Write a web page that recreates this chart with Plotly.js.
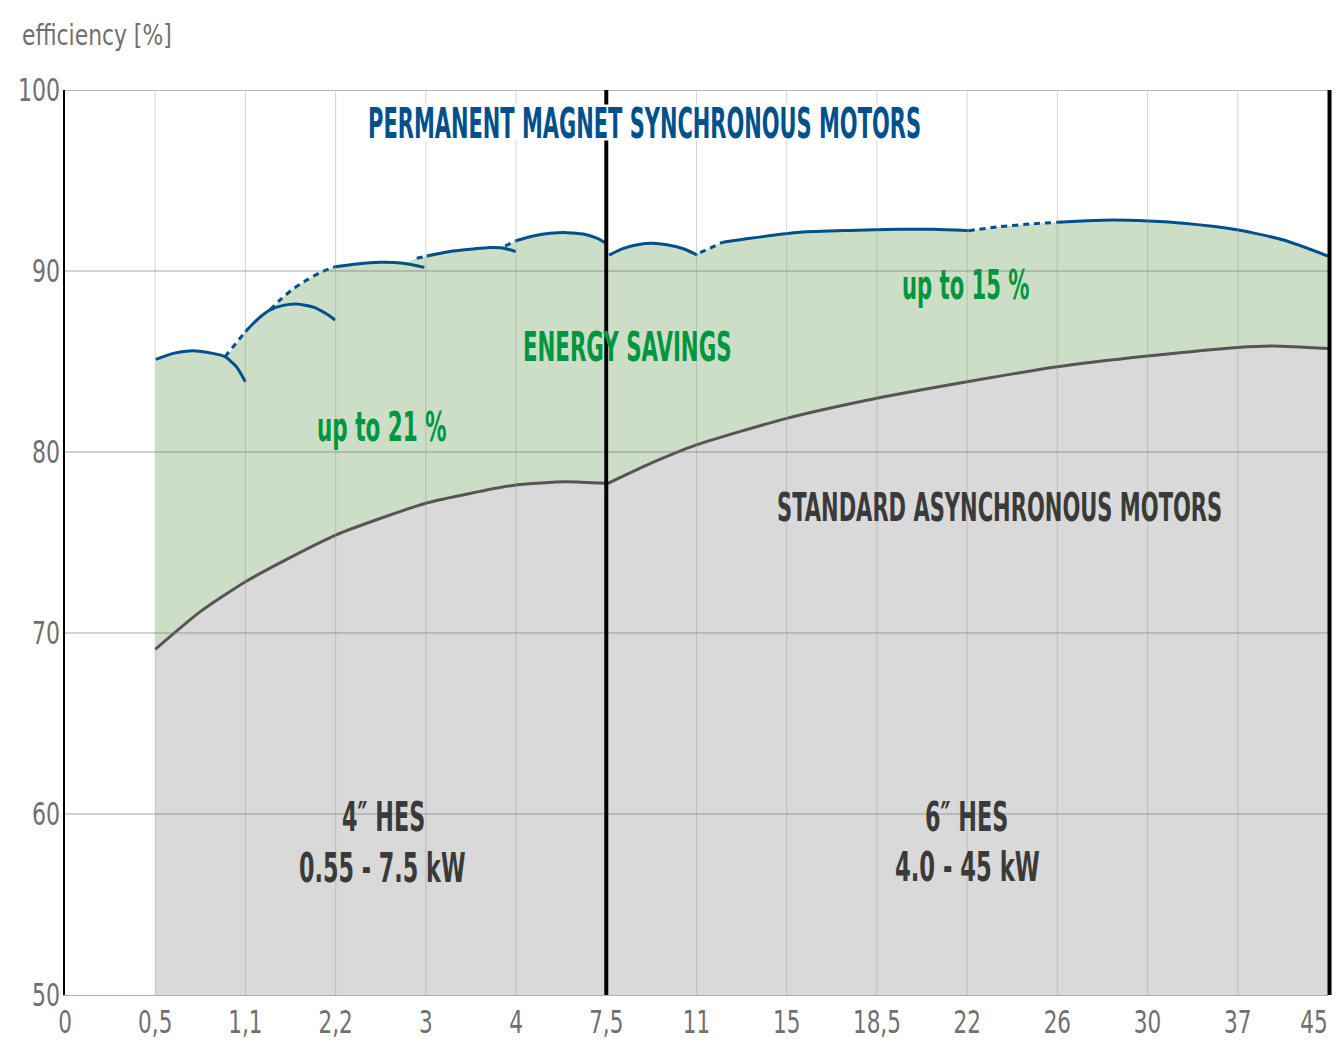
<!DOCTYPE html>
<html><head><meta charset="utf-8">
<script src="https://cdn.plot.ly/plotly-3.0.1.min.js"></script>
<style>html,body{margin:0;padding:0;background:#fff}#chart{width:1343px;height:1046px}</style>
</head><body><div id="chart"></div>
<script>
// ---------- DATA (x = position index of the power tick labels) ----------
const xTickLabels = ['0','0,5','1,1','2,2','3','4','7,5','11','15','18,5','22','26','30','37','45'];
const yTickValues = [50,60,70,80,90,100];

// standard asynchronous motors, efficiency [%]
const asyncLeftX  = [1.0, 1.5, 2.0, 2.5, 3.0, 3.5, 4.0, 4.5, 5.0, 5.55, 6.0];
const asyncLeftY  = [69.1, 71.18, 72.83, 74.18, 75.41, 76.34, 77.17, 77.72, 78.18, 78.36, 78.27];
const asyncRightX = [6.0, 6.45, 7.0, 8.0, 9.0, 10.0, 11.0, 12.0, 13.0, 13.4, 14.0];
const asyncRightY = [78.23, 79.28, 80.39, 81.86, 82.97, 83.88, 84.71, 85.30, 85.78, 85.86, 85.72];

// permanent magnet synchronous motors – solid curve pieces
const pmArc1X = [1.006, 1.2, 1.42, 1.64, 1.774, 1.9, 2.0];
const pmArc1Y = [85.12, 85.45, 85.60, 85.45, 85.27, 84.71, 83.88];
const pmArc2X = [2.0, 2.125, 2.273, 2.42, 2.569, 2.753, 2.901, 2.993];
const pmArc2Y = [86.65, 87.29, 87.85, 88.10, 88.18, 88.0, 87.62, 87.29];
const pmArc3X = [2.993, 3.234, 3.492, 3.75, 3.983];
const pmArc3Y = [90.24, 90.39, 90.48, 90.43, 90.20];
const pmArc4X = [4.01, 4.268, 4.527, 4.712, 4.823, 4.911, 4.997];
const pmArc4Y = [90.83, 91.08, 91.22, 91.30, 91.29, 91.20, 91.07];
const pmArc5X = [4.997, 5.192, 5.377, 5.562, 5.746, 5.895, 5.987];
const pmArc5Y = [91.67, 91.93, 92.08, 92.12, 92.04, 91.81, 91.56];
const pmArc6X = [6.031, 6.19, 6.375, 6.505, 6.671, 6.855, 7.01];
const pmArc6Y = [90.88, 91.25, 91.48, 91.53, 91.45, 91.23, 90.88];
const pmMain1X = [7.291, 7.594, 8.149, 8.703, 9.257, 9.627, 10.015];
const pmMain1Y = [91.59, 91.81, 92.14, 92.24, 92.30, 92.30, 92.23];
const pmMain2X = [10.994, 11.327, 11.621, 12.01, 12.398, 13.008, 13.507, 14.0];
const pmMain2Y = [92.69, 92.78, 92.82, 92.76, 92.64, 92.27, 91.71, 90.83];

// permanent magnet synchronous motors – dotted connecting pieces
const pmDot1X = [1.774, 2.0];                 const pmDot1Y = [85.27, 86.65];
const pmDot2X = [2.273, 2.384, 2.513, 2.68, 2.827, 2.993];
const pmDot2Y = [87.85, 88.40, 88.95, 89.50, 89.91, 90.24];
const pmDot3X = [3.899, 4.01];                const pmDot3Y = [90.70, 90.83];
const pmDot4X = [4.878, 4.997];               const pmDot4Y = [91.38, 91.67];
const pmDot5X = [7.04, 7.291];                const pmDot5Y = [91.01, 91.59];
const pmDot6X = [10.015, 10.366, 10.735, 10.994];
const pmDot6Y = [92.23, 92.45, 92.61, 92.69];

// upper envelope of the PMSM curves (top of the energy-savings area)
const pmEnvLeftX = [1.006, 1.2, 1.42, 1.64, 1.774, 2.0, 2.125, 2.273, 2.384, 2.513, 2.68, 2.827, 2.993,
                    3.234, 3.492, 3.75, 3.899, 4.01, 4.268, 4.527, 4.712, 4.878, 4.997,
                    5.192, 5.377, 5.562, 5.746, 5.895, 5.987];
const pmEnvLeftY = [85.12, 85.45, 85.60, 85.45, 85.27, 86.65, 87.29, 87.85, 88.40, 88.95, 89.50, 89.91, 90.24,
                    90.39, 90.48, 90.43, 90.70, 90.83, 91.08, 91.22, 91.30, 91.38, 91.67,
                    91.93, 92.08, 92.12, 92.04, 91.81, 91.56];
const pmEnvRightX = [6.031, 6.19, 6.375, 6.505, 6.671, 6.855, 7.01, 7.04, 7.291, 7.594, 8.149, 8.703, 9.257,
                     9.627, 10.015, 10.366, 10.735, 10.994, 11.327, 11.621, 12.01, 12.398, 13.008, 13.507, 14.0];
const pmEnvRightY = [90.88, 91.25, 91.48, 91.53, 91.45, 91.23, 90.88, 91.01, 91.59, 91.81, 92.14, 92.24, 92.30,
                     92.30, 92.23, 92.45, 92.61, 92.69, 92.78, 92.82, 92.76, 92.64, 92.27, 91.71, 90.83];

// ---------- STYLE ----------
const BLUE = '#00508c', GREEN_FILL = '#ccdec6', GRAY_FILL = '#d9d9d9', GRAY_LINE = '#555555';
const GREEN_TXT = '#009640', DARK_TXT = '#3a3a3a', AXIS_TXT = '#707070';
const NARROW = '"DejaVu Sans Condensed", "Liberation Sans Narrow", sans-serif';

const traces = [];
function fillTrace(x, y, color) {
  traces.push({x, y, type:'scatter', mode:'lines', fill:'tozeroy', fillcolor:color,
    line:{width:0, color:color, shape:'spline', smoothing:0.6}, hoverinfo:'skip'});
}
function lineTrace(x, y, color, dash) {
  traces.push({x, y, type:'scatter', mode:'lines',
    line:{width:3, color:color, shape:'spline', smoothing:0.6, dash:dash || 'solid'}, hoverinfo:'skip'});
}
fillTrace(pmEnvLeftX, pmEnvLeftY, GREEN_FILL);
fillTrace(pmEnvRightX, pmEnvRightY, GREEN_FILL);
fillTrace(asyncLeftX, asyncLeftY, GRAY_FILL);
fillTrace(asyncRightX, asyncRightY, GRAY_FILL);
lineTrace(asyncLeftX, asyncLeftY, GRAY_LINE);
lineTrace(asyncRightX, asyncRightY, GRAY_LINE);
[[pmArc1X,pmArc1Y],[pmArc2X,pmArc2Y],[pmArc3X,pmArc3Y],[pmArc4X,pmArc4Y],[pmArc5X,pmArc5Y],
 [pmArc6X,pmArc6Y],[pmMain1X,pmMain1Y],[pmMain2X,pmMain2Y]].forEach(p => lineTrace(p[0], p[1], BLUE));
[[pmDot1X,pmDot1Y],[pmDot2X,pmDot2Y],[pmDot3X,pmDot3Y],[pmDot4X,pmDot4Y],[pmDot5X,pmDot5Y],
 [pmDot6X,pmDot6Y]].forEach(p => lineTrace(p[0], p[1], BLUE, '6px,5px'));

const xIdx = xTickLabels.map((_, i) => i);
const shapes = [];
xIdx.slice(1, -1).forEach(i => shapes.push({type:'line', xref:'x', yref:'y', x0:i, x1:i, y0:50, y1:100,
  layer:'above', line:{color:'rgba(150,150,150,0.4)', width:1}}));
yTickValues.slice(1, -1).forEach(v => shapes.push({type:'line', xref:'x', yref:'y', x0:0, x1:14, y0:v, y1:v,
  layer:'above', line:{color:'rgba(120,120,120,0.45)', width:1.5}}));
shapes.push({type:'line', xref:'x', yref:'y', x0:0, x1:14, y0:100, y1:100, layer:'above',
  line:{color:'#b8b8b8', width:2}});
shapes.push({type:'line', xref:'x', yref:'y', x0:6, x1:6, y0:50, y1:100, layer:'above',
  line:{color:'#000', width:4}});
shapes.push({type:'line', xref:'paper', yref:'paper', x0:1.0012, x1:1.0012, y0:0, y1:1, layer:'above',
  line:{color:'#000', width:4}});

function ann(text, x, y, size, color, extra) {
  return Object.assign({text, x, y, xref:'x', yref:'y', showarrow:false, xanchor:'center', yanchor:'middle',
    font:{family:NARROW, size, color, weight:700}}, extra || {});
}
const annotations = [
  {text:'efficiency [%]', xref:'paper', yref:'paper', x:-0.0356, y:1.0608, xanchor:'left', yanchor:'middle',
   showarrow:false, font:{family:NARROW, size:24.3, color:AXIS_TXT}},
  ann('PERMANENT MAGNET SYNCHRONOUS MOTORS', 6.425, 98.2, 23.3, BLUE, {bgcolor:'#ffffff', borderpad:4}),
  ann('ENERGY SAVINGS', 6.236, 85.82, 23.7, GREEN_TXT),
  ann('up to 21 %', 3.514, 81.4, 23.9, GREEN_TXT),
  ann('up to 15 %', 9.989, 89.2, 23.5, GREEN_TXT),
  ann('STANDARD ASYNCHRONOUS MOTORS', 10.36, 76.93, 23.4, DARK_TXT),
  ann('4″ HES', 3.526, 59.85, 24.8, DARK_TXT),
  ann('0.55 - 7.5 kW', 3.52, 57.02, 24.8, DARK_TXT),
  ann('6″ HES', 9.99, 59.85, 24.8, DARK_TXT),
  ann('4.0 - 45 kW', 10.0, 57.02, 25.2, DARK_TXT)
];
const annStretch = [1.2, 1.8, 1.74, 1.7, 1.7, 1.68, 1.66, 1.66, 1.66, 1.62];
const tickStretch = 1.3;

const layout = {
  width:1343, height:1046,
  margin:{l:65, r:15, t:90, b:51, pad:0},
  paper_bgcolor:'#ffffff', plot_bgcolor:'#ffffff',
  showlegend:false,
  xaxis:{range:[0,14], tickmode:'array', tickvals:xIdx, ticktext:xTickLabels, showgrid:false, zeroline:false,
    showline:true, linecolor:'#b0b0b0', linewidth:1, ticks:'', ticklabelstandoff:6, ticklabeloverflow:'allow',
    tickfont:{family:NARROW, size:24, color:AXIS_TXT}, fixedrange:true},
  yaxis:{range:[50,100], tickmode:'array', tickvals:yTickValues, showgrid:false, zeroline:false,
    showline:true, linecolor:'#000000', linewidth:2, ticks:'', ticklabelstandoff:-2, ticklabeloverflow:'allow',
    tickfont:{family:NARROW, size:24.5, color:AXIS_TXT}, fixedrange:true},
  shapes, annotations
};

function stretchText(t, s, dx) {
  const b = t.getBBox();
  const cy = b.y + b.height / 2;
  const prev = t.getAttribute('transform') || '';
  t.setAttribute('transform', prev + ' translate(' + (dx || 0) + ' ' + cy + ') scale(1 ' + s + ') translate(0 ' + (-cy) + ')');
}
Plotly.newPlot('chart', traces, layout, {staticPlot:true, displayModeBar:false}).then(gd => {
  gd.querySelectorAll('g.annotation').forEach(g => {
    const s = annStretch[+g.getAttribute('data-index')];
    const t = g.querySelector('text.annotation-text');
    if (t && s && s !== 1) stretchText(t, s);
  });
  const xt = gd.querySelectorAll('.xtick text');
  xt.forEach((t, i) => stretchText(t, tickStretch, i === xt.length - 1 ? -14 : 0));
  gd.querySelectorAll('.ytick text').forEach(t => stretchText(t, tickStretch));
});
</script>
</body></html>
